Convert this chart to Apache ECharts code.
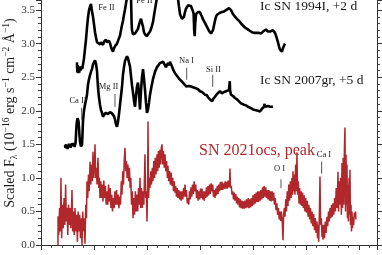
<!DOCTYPE html>
<html><head><meta charset="utf-8">
<script src="https://cdn.jsdelivr.net/npm/echarts@6/dist/echarts.min.js"></script>
<style>html,body{margin:0;padding:0;background:#fff}#c{width:382px;height:255px}</style>
</head><body><div id="c"></div>
<script>
// Wavelength (Angstrom), scaled flux
const sn1994I = [[3678,2.72],[3686,2.57],[3694,2.68],[3702,2.56],[3712,2.66],[3722,2.57],[3733,2.64],[3745,2.6],[3760,2.66],[3778,2.62],[3795,2.7],[3811,2.78],[3830,2.92],[3849,3.06],[3868,3.24],[3887,3.39],[3906,3.5],[3925,3.55],[3943,3.59],[3952,3.53],[3962,3.51],[3981,3.4],[4000,3.29],[4019,3.17],[4038,3.09],[4057,3.02],[4075,3.0],[4094,3.01],[4113,2.99],[4132,3.02],[4151,3.0],[4170,2.98],[4189,3.03],[4208,3.01],[4226,3.06],[4245,3.02],[4264,3.0],[4283,3.04],[4302,3.01],[4321,2.95],[4340,2.91],[4358,2.88],[4377,2.93],[4396,2.96],[4415,2.98],[4434,3.0],[4462,3.06],[4491,3.12],[4519,3.24],[4547,3.34],[4566,3.43],[4585,3.51],[4604,3.6],[4623,3.68],[4642,3.78],[4660,3.82],[4679,3.8],[4698,3.7],[4710,3.3],[4717,3.2],[4736,3.14],[4755,3.16],[4774,3.15],[4792,3.17],[4811,3.17],[4830,3.22],[4849,3.28],[4868,3.33],[4887,3.37],[4906,3.39],[4925,3.25],[4943,3.17],[4962,3.14],[4981,3.12],[5000,3.11],[5019,3.14],[5038,3.16],[5057,3.18],[5085,3.24],[5113,3.32],[5132,3.42],[5151,3.51],[5170,3.6],[5189,3.68],[5230,3.85],[5280,3.98],[5340,4.05],[5400,4.05],[5460,3.98],[5520,3.88],[5570,3.76],[5604,3.55],[5623,3.44],[5642,3.4],[5660,3.37],[5679,3.36],[5698,3.4],[5717,3.47],[5736,3.52],[5755,3.54],[5774,3.57],[5792,3.58],[5811,3.59],[5830,3.56],[5849,3.52],[5868,3.48],[5880,3.45],[5890,3.2],[5900,3.11],[5910,3.3],[5925,3.44],[5943,3.46],[5962,3.47],[5981,3.46],[6000,3.47],[6019,3.43],[6038,3.4],[6057,3.36],[6075,3.34],[6094,3.31],[6113,3.28],[6132,3.26],[6151,3.22],[6170,3.19],[6189,3.17],[6208,3.15],[6226,3.14],[6245,3.2],[6264,3.27],[6283,3.34],[6302,3.4],[6321,3.43],[6340,3.44],[6358,3.45],[6377,3.46],[6396,3.44],[6415,3.47],[6434,3.46],[6453,3.48],[6472,3.47],[6491,3.5],[6509,3.49],[6528,3.52],[6547,3.53],[6566,3.55],[6585,3.5],[6604,3.48],[6623,3.44],[6642,3.42],[6660,3.4],[6679,3.38],[6698,3.37],[6717,3.35],[6736,3.34],[6755,3.33],[6774,3.3],[6792,3.3],[6811,3.27],[6830,3.26],[6849,3.24],[6868,3.25],[6887,3.22],[6906,3.21],[6925,3.2],[6943,3.18],[6962,3.2],[6981,3.17],[7000,3.19],[7019,3.16],[7038,3.18],[7057,3.16],[7075,3.15],[7094,3.17],[7113,3.16],[7132,3.17],[7151,3.15],[7170,3.17],[7189,3.18],[7208,3.17],[7226,3.2],[7245,3.21],[7264,3.19],[7283,3.18],[7302,3.2],[7321,3.18],[7340,3.17],[7358,3.19],[7377,3.2],[7396,3.18],[7415,3.16],[7434,3.12],[7453,3.07],[7472,3.02],[7490,2.96],[7509,2.91],[7528,2.89],[7547,2.88],[7560,2.92],[7575,2.95],[7590,2.97],[7604,3.0]];

const sn2007gr = [[3453,1.49],[3462,1.45],[3472,1.5],[3481,1.44],[3491,1.47],[3500,1.43],[3510,1.49],[3519,1.46],[3528,1.51],[3538,1.46],[3547,1.49],[3557,1.45],[3566,1.48],[3576,1.46],[3585,1.51],[3595,1.47],[3604,1.52],[3614,1.47],[3623,1.5],[3633,1.46],[3642,1.48],[3652,1.52],[3661,1.65],[3670,1.78],[3679,1.85],[3689,1.89],[3698,1.9],[3708,1.84],[3717,1.75],[3727,1.62],[3736,1.54],[3745,1.5],[3755,1.47],[3764,1.46],[3774,1.5],[3783,1.65],[3792,1.84],[3811,2.0],[3830,2.09],[3849,2.16],[3868,2.24],[3887,2.39],[3906,2.47],[3925,2.53],[3943,2.58],[3962,2.62],[3981,2.69],[4000,2.72],[4019,2.75],[4038,2.7],[4057,2.59],[4066,2.47],[4075,2.35],[4094,2.2],[4113,2.09],[4132,2.01],[4151,1.97],[4170,1.91],[4189,1.94],[4208,1.93],[4226,1.97],[4245,1.99],[4264,1.95],[4283,1.94],[4302,1.98],[4321,2.0],[4340,1.96],[4358,1.97],[4377,1.92],[4396,1.87],[4415,1.8],[4434,1.76],[4453,1.84],[4472,1.95],[4491,2.09],[4509,2.22],[4528,2.35],[4547,2.54],[4566,2.65],[4585,2.74],[4604,2.78],[4623,2.81],[4642,2.78],[4660,2.72],[4679,2.66],[4698,2.52],[4717,2.38],[4736,2.27],[4755,2.15],[4774,2.06],[4792,2.22],[4811,2.36],[4830,2.42],[4849,2.25],[4868,2.02],[4887,2.3],[4906,2.5],[4925,2.62],[4943,2.48],[4962,2.32],[4981,2.12],[5000,1.97],[5019,2.02],[5038,2.12],[5057,2.24],[5085,2.36],[5113,2.47],[5151,2.58],[5189,2.65],[5217,2.68],[5245,2.71],[5274,2.72],[5302,2.73],[5330,2.69],[5358,2.65],[5377,2.68],[5396,2.71],[5415,2.68],[5434,2.73],[5453,2.69],[5472,2.66],[5500,2.6],[5528,2.56],[5557,2.53],[5585,2.51],[5604,2.48],[5623,2.46],[5651,2.44],[5679,2.42],[5698,2.4],[5717,2.38],[5745,2.36],[5774,2.35],[5792,2.37],[5811,2.39],[5830,2.36],[5849,2.37],[5868,2.35],[5887,2.36],[5906,2.34],[5925,2.36],[5943,2.35],[5962,2.32],[5981,2.31],[6000,2.29],[6019,2.3],[6038,2.28],[6057,2.26],[6075,2.27],[6094,2.24],[6113,2.25],[6132,2.23],[6151,2.2],[6170,2.18],[6189,2.17],[6208,2.15],[6226,2.14],[6245,2.17],[6264,2.19],[6283,2.21],[6302,2.23],[6321,2.25],[6340,2.26],[6358,2.27],[6377,2.29],[6396,2.27],[6415,2.26],[6434,2.26],[6453,2.28],[6472,2.27],[6491,2.29],[6509,2.28],[6528,2.29],[6547,2.31],[6557,2.3],[6562,2.44],[6568,2.3],[6585,2.24],[6604,2.23],[6623,2.22],[6642,2.2],[6660,2.19],[6679,2.18],[6698,2.17],[6717,2.15],[6736,2.14],[6755,2.12],[6774,2.11],[6792,2.1],[6811,2.09],[6830,2.09],[6849,2.08],[6868,2.08],[6887,2.07],[6906,2.06],[6925,2.05],[6943,2.05],[6962,2.04],[6981,2.03],[7000,2.02],[7019,2.02],[7038,2.01],[7057,2.01],[7075,2.0],[7094,2.0],[7113,1.99],[7132,1.99],[7151,2.01],[7170,2.03],[7189,2.05],[7208,2.06],[7217,2.1],[7226,2.12],[7236,2.06],[7245,2.04],[7264,2.05],[7283,2.07],[7302,2.05],[7321,2.06],[7340,2.05],[7358,2.07],[7377,2.06]];

const sn2021ocs = [[3320,0.0],[3322,0.43],[3335,0.15],[3350,0.55],[3365,0.2],[3377,1.0],[3390,0.1],[3405,0.6],[3420,0.25],[3435,0.7],[3450,0.3],[3465,0.9],[3478,0.35],[3492,0.55],[3505,0.15],[3520,0.6],[3535,0.3],[3550,0.55],[3565,0.25],[3585,0.82],[3598,0.2],[3612,0.5],[3627,0.15],[3642,0.55],[3657,0.2],[3672,0.45],[3687,0.05],[3700,0.5],[3715,0.2],[3730,0.45],[3745,0.1],[3760,0.4],[3774,0.0],[3788,0.5],[3802,0.2],[3816,0.4],[3830,0.02],[3845,0.6],[3858,0.4],[3868,0.95],[3882,0.7],[3896,1.05],[3910,0.8],[3925,1.24],[3940,0.9],[3955,1.2],[3968,0.95],[3981,1.39],[3995,1.0],[4008,1.2],[4019,1.5],[4032,1.0],[4045,1.15],[4057,0.9],[4075,1.3],[4090,0.85],[4102,1.0],[4113,0.7],[4128,0.95],[4142,0.7],[4156,0.9],[4170,0.65],[4185,0.96],[4200,0.7],[4215,0.88],[4230,0.6],[4245,0.8],[4260,0.6],[4275,0.9],[4290,0.65],[4305,0.85],[4320,0.55],[4335,0.75],[4350,0.5],[4365,0.7],[4380,0.55],[4395,0.8],[4410,0.6],[4425,0.82],[4440,0.6],[4455,0.75],[4470,0.55],[4485,0.72],[4500,0.6],[4515,0.95],[4528,0.75],[4542,1.1],[4556,0.9],[4570,1.25],[4585,1.45],[4598,1.1],[4612,1.25],[4625,1.0],[4640,1.2],[4655,0.95],[4668,1.15],[4682,0.85],[4695,1.0],[4708,0.6],[4722,0.8],[4736,0.4],[4750,0.7],[4765,0.45],[4780,0.8],[4795,0.5],[4811,0.75],[4825,0.5],[4840,0.85],[4855,0.6],[4868,1.0],[4882,0.55],[4896,0.85],[4910,0.55],[4925,0.8],[4940,0.6],[4952,1.0],[4962,1.35],[4975,0.7],[4988,0.8],[5000,0.35],[5012,0.9],[5019,1.84],[5030,0.7],[5045,1.0],[5057,0.85],[5072,1.1],[5085,0.9],[5100,1.15],[5113,0.95],[5128,1.25],[5142,1.0],[5156,1.3],[5170,1.05],[5189,1.35],[5202,1.1],[5216,1.4],[5230,1.15],[5245,1.42],[5258,1.2],[5270,1.45],[5283,1.5],[5296,1.2],[5310,1.4],[5325,1.15],[5340,1.35],[5355,1.1],[5370,1.25],[5385,1.0],[5396,1.18],[5410,0.95],[5425,1.1],[5440,0.9],[5456,1.08],[5472,0.88],[5486,1.0],[5500,0.8],[5514,0.95],[5528,0.78],[5542,0.88],[5556,0.72],[5570,0.85],[5585,0.7],[5600,0.82],[5615,0.68],[5630,0.8],[5645,0.66],[5660,0.8],[5675,0.68],[5690,0.85],[5703,0.72],[5717,0.9],[5731,0.72],[5745,0.82],[5760,0.62],[5774,0.7],[5788,0.6],[5802,0.8],[5816,0.68],[5830,0.86],[5845,0.72],[5860,0.9],[5875,0.76],[5890,0.95],[5906,0.8],[5920,0.9],[5935,0.7],[5950,0.82],[5965,0.66],[5980,0.8],[5995,0.68],[6010,0.84],[6024,0.7],[6038,0.84],[6052,0.68],[6066,0.8],[6080,0.66],[6094,0.8],[6108,0.7],[6122,0.86],[6136,0.72],[6151,0.88],[6165,0.74],[6180,0.9],[6195,0.76],[6210,0.92],[6226,0.8],[6240,0.9],[6255,0.72],[6270,0.82],[6283,0.7],[6298,0.84],[6312,0.74],[6326,0.88],[6340,0.76],[6355,0.9],[6370,0.8],[6385,0.94],[6400,0.82],[6415,0.94],[6430,0.82],[6445,0.92],[6460,0.84],[6475,0.95],[6490,0.84],[6505,0.94],[6518,0.84],[6530,0.96],[6545,0.86],[6558,0.95],[6566,1.14],[6575,0.85],[6590,0.88],[6604,0.75],[6618,0.8],[6632,0.68],[6646,0.78],[6660,0.66],[6675,0.76],[6690,0.62],[6704,0.72],[6717,0.6],[6732,0.7],[6746,0.56],[6760,0.68],[6775,0.55],[6790,0.66],[6805,0.54],[6820,0.65],[6835,0.54],[6850,0.66],[6865,0.55],[6880,0.68],[6895,0.56],[6910,0.7],[6925,0.55],[6940,0.68],[6955,0.56],[6970,0.7],[6985,0.58],[7000,0.74],[7015,0.6],[7030,0.76],[7045,0.62],[7060,0.78],[7075,0.64],[7090,0.8],[7105,0.64],[7120,0.8],[7135,0.66],[7150,0.82],[7165,0.68],[7180,0.86],[7195,0.7],[7210,0.88],[7226,0.72],[7240,0.86],[7255,0.7],[7270,0.82],[7285,0.68],[7300,0.82],[7315,0.66],[7330,0.8],[7345,0.65],[7360,0.8],[7377,0.66],[7390,0.78],[7405,0.6],[7420,0.7],[7435,0.52],[7450,0.62],[7465,0.45],[7480,0.55],[7495,0.38],[7509,0.5],[7522,0.36],[7535,0.5],[7550,0.38],[7566,0.07],[7578,0.45],[7590,0.55],[7604,0.42],[7618,0.68],[7632,0.5],[7646,0.8],[7660,0.58],[7675,0.9],[7690,0.66],[7705,0.95],[7720,0.7],[7736,1.0],[7748,0.75],[7755,1.1],[7768,0.8],[7780,1.05],[7792,0.75],[7805,1.2],[7818,0.8],[7830,1.38],[7842,0.75],[7855,0.95],[7868,0.62],[7880,0.85],[7894,0.6],[7908,0.8],[7922,0.58],[7936,0.78],[7950,0.55],[7965,0.74],[7980,0.5],[7995,0.7],[8010,0.48],[8025,0.66],[8040,0.42],[8055,0.6],[8070,0.38],[8085,0.55],[8100,0.32],[8115,0.5],[8130,0.28],[8145,0.46],[8160,0.22],[8175,0.4],[8190,0.18],[8208,0.35],[8218,0.1],[8226,0.3],[8240,0.05],[8252,0.45],[8264,1.02],[8276,0.3],[8290,0.4],[8302,0.12],[8315,0.3],[8321,0.08],[8335,0.3],[8350,0.1],[8365,0.35],[8380,0.18],[8396,0.42],[8410,0.28],[8425,0.5],[8440,0.35],[8453,0.55],[8468,0.4],[8482,0.6],[8496,0.42],[8510,0.62],[8525,0.45],[8540,0.7],[8555,0.5],[8570,0.85],[8585,0.55],[8594,0.75],[8604,1.09],[8615,0.5],[8628,0.95],[8642,0.6],[8655,1.0],[8668,0.45],[8679,1.22],[8690,0.55],[8702,1.3],[8714,0.6],[8725,1.45],[8736,1.75],[8746,0.5],[8756,1.35],[8765,0.6],[8774,1.2],[8782,0.4],[8792,0.9],[8802,0.35],[8812,1.0],[8822,0.45],[8830,1.12],[8840,0.3],[8850,0.6],[8858,0.2],[8868,0.5],[8878,0.25],[8887,0.42],[8900,0.3],[8912,0.48],[8925,0.42],[8935,0.5],[8943,0.38]];

// Line identifications: label text, label position, marker line [wave, top, bottom]
const lineLabels = [
  {text:'Fe II', w:4236, f:3.54},
  {text:'Fe II', w:4953, f:3.64},
  {text:'Ca II', w:3698, f:2.15, tick:[3768,2.045,1.866]},
  {text:'Mg II', w:4274, f:2.356, tick:[4396,2.25,2.057]},
  {text:'Na I', w:5745, f:2.744, tick:[5749,2.64,2.461]},
  {text:'Si II', w:6255, f:2.618, tick:[6240,2.536,2.357]},
  {text:'O I', w:7500, f:1.129, tick:[7528,0.979,0.845]},
  {text:'Ca I', w:8340, f:1.345, tick:[8296,1.241,1.063]}
];
const seriesLabels = [
  {text:'Ic SN 1994I, +2 d', w:7132, f:3.555, color:'#1a1a1a', size:13.5},
  {text:'Ic SN 2007gr, +5 d', w:7132, f:2.446, color:'#1a1a1a', size:13.5},
  {text:'SN 2021ocs, peak', w:5981, f:1.41, color:'#b0282c', size:16}
];

const SERIF = '"Liberation Serif", "Times New Roman", serif';
const chart = echarts.init(document.getElementById('c'), null, {renderer:'canvas'});
const axisCommon = {
  axisLine:{show:true, lineStyle:{color:'#333', width:1}},
  axisTick:{show:true, length:5, lineStyle:{color:'#333'}},
  minorTick:{show:true, splitNumber:5, length:3, lineStyle:{color:'#444'}},
  splitLine:{show:false}
};
chart.setOption({
  animation:false,
  grid:{left:41, right:5, top:0, bottom:10, containLabel:false},
  xAxis:[Object.assign({type:'value', min:3000, max:9340, interval:1000, axisLabel:{show:false}}, axisCommon)],
  yAxis:[
    Object.assign({type:'value', min:0, max:3.65, interval:0.5, position:'left',
      axisLabel:{show:true, margin:6, color:'#333', fontFamily:SERIF, fontSize:11, formatter:v=>v.toFixed(1)}}, axisCommon),
    Object.assign({type:'value', min:0, max:3.65, interval:0.5, position:'right',
      axisLabel:{show:false}}, axisCommon)
  ],
  series:[
    {type:'line', data:sn2021ocs, showSymbol:false, symbol:'none', lineStyle:{color:'#b0282c', width:1.5}, clip:true, z:2},
    {type:'line', data:sn2007gr, showSymbol:false, symbol:'none', lineStyle:{color:'#000', width:2.6}, clip:true, z:3},
    {type:'line', data:sn1994I, showSymbol:false, symbol:'none', lineStyle:{color:'#000', width:2.6}, clip:true, z:3}
  ]
});

const g = [];
const px = (w,f) => chart.convertToPixel({gridIndex:0}, [w,f]);
lineLabels.forEach(l => {
  const p = px(l.w, l.f);
  g.push({type:'text', x:p[0], y:p[1], z:20, style:{text:l.text, fill:'#222', font:'8.5px ' + SERIF, textAlign:'center', textVerticalAlign:'middle'}});
  if (l.tick) {
    const a = px(l.tick[0], l.tick[1]), b = px(l.tick[0], l.tick[2]);
    g.push({type:'line', z:20, shape:{x1:a[0], y1:a[1], x2:b[0], y2:b[1]}, style:{stroke:'#555', lineWidth:1}});
  }
});
seriesLabels.forEach(l => {
  const p = px(l.w, l.f);
  g.push({type:'text', x:p[0], y:p[1], z:20, style:{text:l.text, fill:l.color, font:l.size + 'px ' + SERIF, textAlign:'left', textVerticalAlign:'middle'}});
});
g.push({type:'text', x:10, y:113, rotation:Math.PI/2, z:20, style:{
  text:'{n|Scaled F}{sub|λ}{n| (10}{sup|−16}{n| erg s}{sup|−1}{n| cm}{sup|−2}{n| Å}{sup|−1}{n|)}',
  textAlign:'center', textVerticalAlign:'middle', fill:'#222',
  rich:{
    n:{fontFamily:SERIF, fontSize:14, lineHeight:18, fill:'#222'},
    sup:{fontFamily:SERIF, fontSize:9.5, lineHeight:8, verticalAlign:'top', fill:'#222'},
    sub:{fontFamily:SERIF, fontSize:9.5, lineHeight:8, verticalAlign:'bottom', fill:'#222'}
  }
}});
chart.setOption({graphic:g});
</script>
</body></html>
